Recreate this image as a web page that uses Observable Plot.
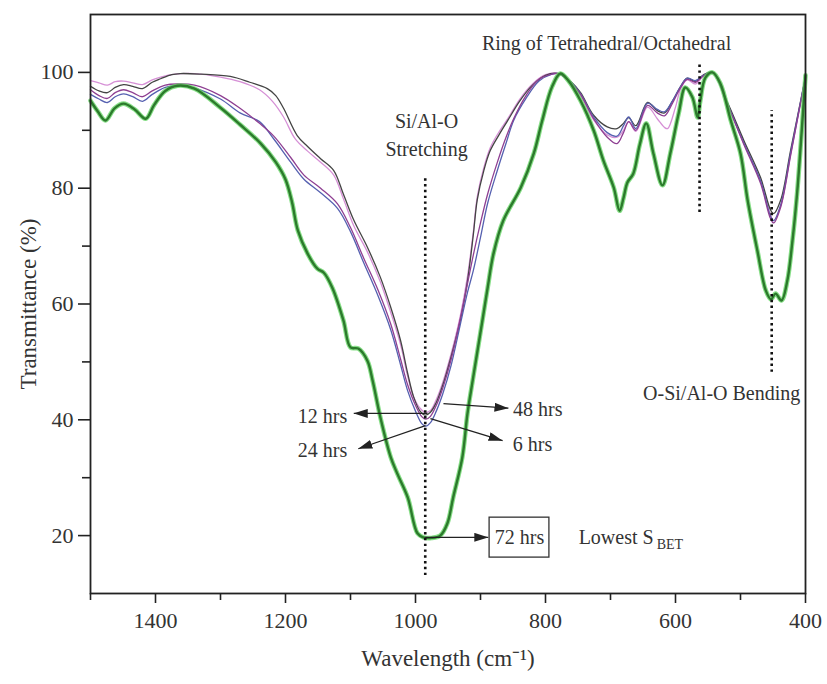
<!DOCTYPE html>
<html><head><meta charset="utf-8">
<script src="https://cdn.jsdelivr.net/npm/d3@7"></script>
<script src="https://cdn.jsdelivr.net/npm/@observablehq/plot@0.6"></script>
<style>body{margin:0;background:#fff}#chart{width:827px;height:684px}</style>
</head><body><div id="chart"></div>
<script>
// ---- data: [wavenumber cm-1, transmittance %] ----
const hrs72 = [[1500,95.1],[1489,93.3],[1477,91.7],[1463,93.8],[1449,94.6],[1432,93.6],[1415,92.0],[1402,94.4],[1385,96.8],[1366,97.7],[1340,97.2],[1300,93.9],[1270,91.0],[1238,87.7],[1215,84.5],[1200,81.5],[1190,77.6],[1181,72.7],[1166,68.7],[1151,66.1],[1141,65.4],[1128,62.8],[1111,57.2],[1100,52.5],[1088,52.3],[1074,50.2],[1066,46.8],[1054,40.4],[1038,33.5],[1028,30.7],[1012,26.6],[997,20.4],[988,19.7],[975,19.6],[962,20.0],[951,22.1],[942,26.6],[928,33.5],[920,41.1],[912,46.8],[897,57.2],[889,62.8],[880,68.7],[865,74.4],[838,80.1],[818,86.0],[805,91.7],[790,97.5],[777,99.8],[765,98.6],[746,95.1],[726,90.0],[711,84.8],[695,80.1],[686,76.1],[680,78.3],[674,81.0],[665,82.5],[655,87.5],[645,91.2],[634,86.0],[620,80.5],[608,86.0],[595,93.0],[585,97.4],[574,95.7],[566,92.2],[562,95.0],[554,99.1],[543,100],[531,98.1],[515,91.7],[500,86.0],[489,77.9],[474,69.2],[461,62.3],[453,60.8],[446,61.8],[437,60.6],[428,64.0],[420,71.0],[413,79.0],[407,88.0],[400,99.5]];

const hrs12 = [[1500,97.6],[1487,96.8],[1474,96.5],[1462,97.4],[1449,97.9],[1435,97.6],[1420,97.2],[1405,98.3],[1392,98.9],[1375,99.6],[1362,99.8],[1330,99.7],[1285,99.3],[1255,98.3],[1228,97.2],[1215,96.0],[1203,93.8],[1182,89.1],[1166,87.2],[1146,85.1],[1126,83.1],[1111,79.0],[1095,74.5],[1074,69.8],[1054,64.6],[1038,59.4],[1023,53.7],[1012,48.0],[1003,44.0],[993,41.5],[985,40.8],[977,41.3],[968,43.0],[958,46.0],[945,51.0],[931,57.2],[920,64.0],[911,72.0],[905,78.0],[895,83.0],[885,86.5],[870,89.5],[858,91.7],[840,95.0],[820,97.8],[800,99.5],[780,99.8],[760,98.3],[746,96.5],[726,92.6],[705,90.6],[690,90.3],[680,91.2],[672,92.2],[661,90.8],[643,94.8],[628,93.4],[617,93.0],[605,95.0],[592,97.6],[582,99.0],[569,98.4],[557,99.6],[543,100],[520,94.8],[495,88.3],[469,81.8],[454,76.3],[449,75.6],[438,78.0],[423,86.5],[408,94.8],[400,99.1]];

const hrs48 = [[1500,98.6],[1487,98.2],[1474,97.8],[1462,98.4],[1449,98.5],[1435,98.2],[1420,97.9],[1405,98.7],[1392,99.2],[1370,99.7],[1340,99.8],[1300,99.2],[1270,98.4],[1240,97.0],[1220,95.0],[1203,92.3],[1185,88.5],[1166,86.4],[1146,84.5],[1126,82.3],[1111,78.2],[1095,73.5],[1074,69.0],[1054,63.8],[1038,58.5],[1023,53.0],[1012,47.5],[1003,44.0],[993,42.0],[985,41.3],[977,41.6],[968,43.5],[958,46.5],[945,51.5],[931,58.0],[920,64.8],[911,72.5],[905,78.5],[895,83.5],[885,87.0],[870,90.0],[858,92.0],[840,95.3],[820,98.0],[800,99.6],[780,99.8],[760,98.0],[746,96.0],[726,91.8],[705,89.2],[690,88.8],[680,90.0],[672,91.5],[661,89.8],[643,94.0],[628,92.0],[617,90.5],[612,90.3],[600,94.0],[592,97.2],[582,98.7],[569,98.0],[557,99.4],[543,100],[520,94.6],[495,88.0],[469,81.3],[454,75.5],[449,74.4],[438,77.0],[423,85.8],[408,94.4],[400,99.0]];

const hrs24 = [[1500,96.2],[1487,95.4],[1474,94.8],[1462,95.8],[1449,96.3],[1435,95.8],[1420,95.0],[1405,96.2],[1385,97.4],[1366,97.7],[1340,97.3],[1300,95.4],[1270,93.0],[1240,91.5],[1218,88.5],[1192,84.5],[1172,81.6],[1146,79.2],[1120,76.5],[1100,72.5],[1080,67.2],[1058,61.5],[1038,55.5],[1023,49.5],[1012,45.0],[1000,41.5],[990,39.3],[984,38.9],[977,39.5],[968,41.5],[958,44.5],[945,49.5],[931,56.5],[920,62.0],[911,65.8],[900,71.5],[889,77.4],[874,83.1],[860,88.0],[849,91.7],[830,95.5],[810,98.5],[790,99.7],[780,99.8],[760,98.2],[746,96.3],[726,92.3],[705,89.6],[690,89.0],[680,90.8],[672,92.3],[661,90.3],[643,94.7],[628,93.6],[617,93.2],[605,95.0],[592,97.6],[582,99.0],[569,98.6],[557,99.5],[543,100],[520,94.5],[495,87.8],[469,81.2],[454,75.2],[449,74.4],[438,77.2],[423,86.0],[408,94.7],[400,99.4]];

const hrs6 = [[1500,97.0],[1487,96.0],[1474,95.5],[1462,96.5],[1449,97.0],[1435,96.5],[1420,95.8],[1405,96.8],[1385,97.8],[1366,98.0],[1340,97.8],[1300,96.0],[1270,93.8],[1240,91.2],[1218,89.0],[1192,85.3],[1172,82.3],[1146,80.0],[1120,77.3],[1100,73.2],[1080,68.0],[1058,62.5],[1038,56.5],[1023,50.5],[1012,46.0],[1000,42.5],[990,40.5],[984,40.1],[977,40.6],[968,42.5],[958,45.5],[945,50.5],[931,57.5],[920,63.5],[911,68.5],[900,74.0],[889,79.0],[874,84.5],[860,89.0],[849,92.0],[830,96.0],[810,98.8],[790,99.7],[780,99.8],[760,98.1],[746,96.2],[726,92.0],[705,88.8],[690,87.7],[680,89.6],[672,91.5],[661,90.0],[643,94.3],[628,93.0],[617,92.5],[605,94.6],[592,97.4],[582,98.8],[569,98.3],[557,99.4],[543,100],[520,94.4],[495,87.6],[469,80.8],[454,74.8],[449,74.0],[438,76.8],[423,85.6],[408,94.5],[400,99.2]];

const seriesNames = ["6 hrs", "12 hrs", "24 hrs", "48 hrs", "72 hrs"];
const seriesColors = ["#8e3f92", "#444444", "#5560b0", "#d690d6", "#2c7a2c"];
const xTicksMajor = [1400, 1200, 1000, 800, 600, 400];
const xTicksMinor = [1500, 1300, 1100, 900, 700, 500];
const yTicksMajor = [20, 40, 60, 80, 100];
const yTicksMinor = [30, 50, 70, 90];

// annotations (data coordinates)
const guideLines = [{x: 985, y1: 13.1, y2: 82.2}, {x: 563, y1: 75.8, y2: 101.7}, {x: 452, y1: 48.2, y2: 93.4}];
const centeredLabels = [
  {x: 983, y: 91.5, text: "Si/Al-O"},
  {x: 983, y: 86.6, text: "Stretching"},
  {x: 706, y: 105.0, text: "Ring of Tetrahedral/Octahedral"},
  {x: 529, y: 44.5, text: "O-Si/Al-O Bending"},
  {x: 1143, y: 40.6, text: "12 hrs"},
  {x: 1143, y: 34.7, text: "24 hrs"},
  {x: 812, y: 41.8, text: "48 hrs"},
  {x: 820, y: 35.7, text: "6 hrs"},
  {x: 840, y: 19.7, text: "72 hrs"}
];
const startLabels = [{x: 749, y: 19.7, text: "Lowest S"}];
const subLabels = [{x: 629, y: 18.5, text: "BET"}];
const boxes = [{x1: 886, x2: 794, y1: 16.2, y2: 23.1}];
const arrows = [
  {x1: 981.5, y1: 41.1, x2: 1095, y2: 41.1},
  {x1: 984.6, y1: 39.0, x2: 1088, y2: 35.0},
  {x1: 957, y1: 42.8, x2: 857, y2: 42.0},
  {x1: 977, y1: 40.2, x2: 866, y2: 36.4},
  {x1: 985, y1: 19.7, x2: 888, y2: 19.7}
];

const seriesData = {"6 hrs": hrs6, "12 hrs": hrs12, "24 hrs": hrs24, "48 hrs": hrs48, "72 hrs": hrs72};
const rows = (name) => seriesData[name].map(([x, y]) => ({series: name, x, y}));
const thin = ["48 hrs", "12 hrs", "24 hrs", "6 hrs"].flatMap(rows);
const green = rows("72 hrs");

function filledArrow(color, context) {
  const doc = (context && context.document) ? context.document : (context && context.createElementNS ? context : document);
  const ns = "http://www.w3.org/2000/svg";
  const m = doc.createElementNS(ns, "marker");
  m.setAttribute("viewBox", "-14 -4.5 14 9");
  m.setAttribute("markerWidth", "14");
  m.setAttribute("markerHeight", "9");
  m.setAttribute("markerUnits", "userSpaceOnUse");
  m.setAttribute("orient", "auto");
  const p = doc.createElementNS(ns, "path");
  p.setAttribute("d", "M-14,-4.5L0,0L-14,4.5Z");
  p.setAttribute("fill", color);
  p.setAttribute("stroke", "none");
  m.appendChild(p);
  return m;
}

const font = "'Liberation Serif', 'Times New Roman', serif";
const ink = "#333";
const fmt = (d) => String(d);

function build(marker) {
  return Plot.plot({
    width: 827, height: 684,
    marginLeft: 90, marginRight: 22, marginTop: 14, marginBottom: 91,
    style: {fontFamily: font, background: "#fff", color: ink},
    x: {domain: [1500, 400]},
    y: {domain: [10, 110]},
    color: {domain: seriesNames, range: seriesColors},
    marks: [
      Plot.axisY({ticks: yTicksMajor, tickSize: 12, tickPadding: 5, fontSize: 22, tickFormat: fmt, label: null, stroke: "#222", strokeWidth: 1.6}),
      Plot.axisY({ticks: yTicksMinor, tickSize: 8, tickFormat: () => "", label: null, stroke: "#222", strokeWidth: 1.6}),
      Plot.axisX({ticks: xTicksMajor, tickSize: 10, tickPadding: 9, fontSize: 22, tickFormat: fmt, label: null, stroke: "#222", strokeWidth: 1.6}),
      Plot.axisX({ticks: xTicksMinor, tickSize: 7, tickFormat: () => "", label: null, stroke: "#222", strokeWidth: 1.6}),
      Plot.text(["Transmittance (%)"], {frameAnchor: "left", textAnchor: "middle", rotate: -90, dx: -62, fontSize: 23, fill: ink}),
      Plot.text(["Wavelength (cm⁻¹)"], {frameAnchor: "bottom", textAnchor: "middle", dy: 72, fontSize: 23, fill: ink}),
      Plot.line(thin, {x: "x", y: "y", z: "series", stroke: "series", strokeWidth: 1.3, curve: "catmull-rom"}),
      Plot.line(green, {x: "x", y: "y", stroke: "#5fd35f", strokeWidth: 4.6, strokeOpacity: 0.75, curve: "catmull-rom"}),
      Plot.line(green, {x: "x", y: "y", stroke: "series", strokeWidth: 2.4, curve: "catmull-rom"}),
      Plot.ruleX(guideLines, {x: "x", y1: "y1", y2: "y2", stroke: "#111", strokeWidth: 2.6, strokeDasharray: "2.4,3.4"}),
      Plot.link(arrows, {x1: "x1", y1: "y1", x2: "x2", y2: "y2", stroke: "#222", strokeWidth: 1.3, markerEnd: marker}),
      Plot.rect(boxes, {x1: "x1", x2: "x2", y1: "y1", y2: "y2", fill: "none", stroke: "#333", strokeWidth: 1.3}),
      Plot.text(centeredLabels, {x: "x", y: "y", text: "text", textAnchor: "middle", fontSize: 20, fill: ink}),
      Plot.text(startLabels, {x: "x", y: "y", text: "text", textAnchor: "start", fontSize: 20, fill: ink}),
      Plot.text(subLabels, {x: "x", y: "y", text: "text", textAnchor: "start", fontSize: 14, fill: ink}),
      Plot.frame({stroke: "#222", strokeWidth: 1.8})
    ]
  });
}

let chart;
try { chart = build(filledArrow); } catch (e) { chart = build("arrow"); }
document.getElementById("chart").append(chart);
</script></body></html>
